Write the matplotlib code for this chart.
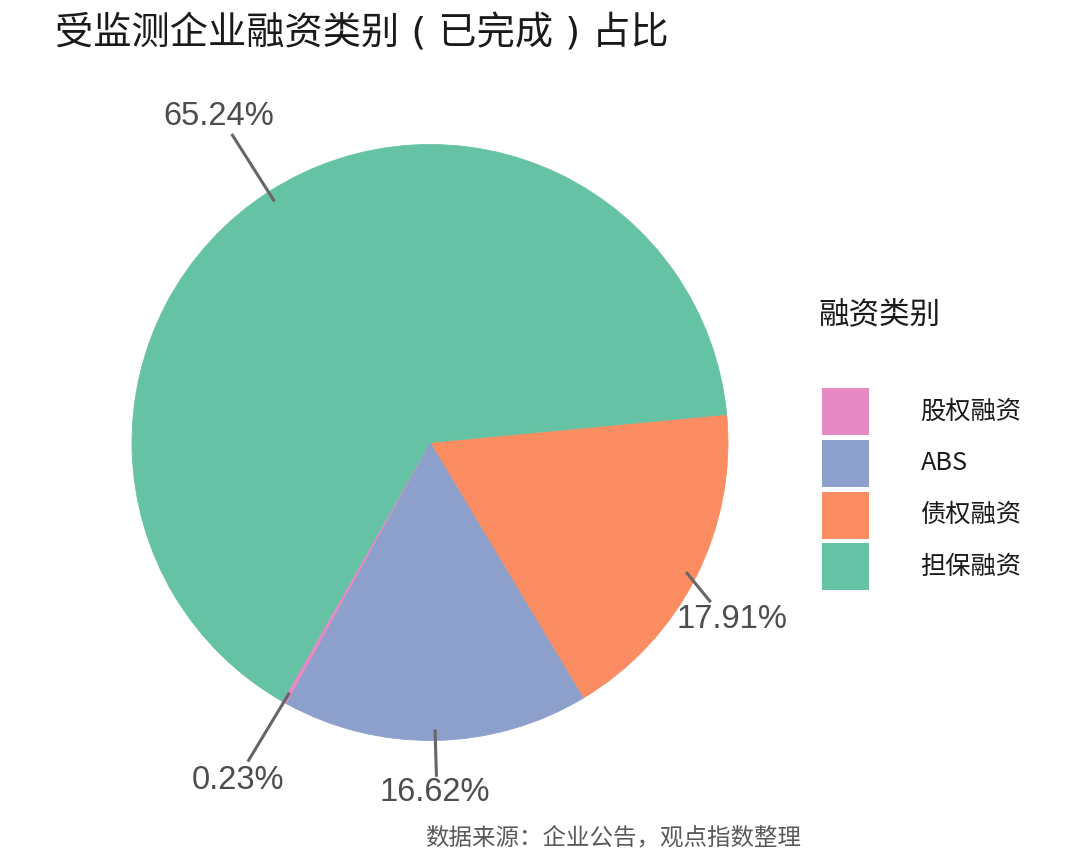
import matplotlib
matplotlib.use("Agg")
import matplotlib.pyplot as plt
from matplotlib.patches import Rectangle
import numpy as np

plt.rcParams['font.family'] = ['Noto Sans CJK SC', 'DejaVu Sans']

# ---- data ----
title = "受监测企业融资类别 ( 已完成 ) 占比"
legend_title = "融资类别"
categories = ["股权融资", "ABS", "债权融资", "担保融资"]
values = [0.23, 16.62, 17.91, 65.24]
pct_labels = ["0.23%", "16.62%", "17.91%", "65.24%"]
caption = "数据来源：企业公告，观点指数整理"

# ---- styles ----
colors = {"股权融资": "#E78AC3", "ABS": "#8DA0CB", "债权融资": "#FC8D62", "担保融资": "#66C2A5"}
pie_order = ["债权融资", "ABS", "股权融资", "担保融资"]   # clockwise from start angle
start_angle = 5.4
# per-category label placement (radius in pie radii, angle offset in degrees)
label_r = {"股权融资": 1.304, "ABS": 1.176, "债权融资": 1.174, "担保融资": 1.302}
line_end_r = {"股权融资": 1.233, "ABS": 1.122, "债权融资": 1.084, "担保融资": 1.231}
label_dang = {"股权融资": -0.3, "ABS": -0.3, "债权融资": -3.5, "担保融资": 0.1}
line_dang = {"股权融资": -0.4, "ABS": 0.1, "债权融资": -2.8, "担保融资": -0.1}

W, H = 1080, 864
fig = plt.figure(figsize=(W / 100, H / 100), dpi=100)
fig.patch.set_facecolor("white")

R_px = 298.0
cx, cy = 430.0, 442.5
half = 400.0
ax = fig.add_axes([(cx - half) / W, (H - cy - half) / H, 2 * half / W, 2 * half / H])
vals = [values[categories.index(c)] for c in pie_order]
wedges, _ = ax.pie(vals, colors=[colors[c] for c in pie_order], startangle=start_angle,
                   counterclock=False, radius=1.0,
                   wedgeprops=dict(linewidth=0.6, antialiased=True))
for w, c in zip(wedges, pie_order):
    w.set_edgecolor(colors[c])
a = half / R_px
ax.set_xlim(-a, a)
ax.set_ylim(-a, a)
ax.set_aspect("equal")
ax.axis("off")

for w, c in zip(wedges, pie_order):
    mid = np.deg2rad((w.theta1 + w.theta2) / 2.0)
    x0, y0 = 0.963 * np.cos(mid), 0.963 * np.sin(mid)
    le = mid + np.deg2rad(line_dang[c])
    x1, y1 = line_end_r[c] * np.cos(le), line_end_r[c] * np.sin(le)
    ax.plot([x0, x1], [y0, y1], color="#666666", lw=2.2, solid_capstyle="butt")
    la = mid + np.deg2rad(label_dang[c])
    xl, yl = label_r[c] * np.cos(la), label_r[c] * np.sin(la)
    ax.text(xl, yl, pct_labels[categories.index(c)], ha="center", va="center",
            fontsize=23.5, color="#4D4D4D", family=["Liberation Sans", "DejaVu Sans"])

# overlay axes in pixel coordinates
ov = fig.add_axes([0, 0, 1, 1])
ov.set_xlim(0, W)
ov.set_ylim(H, 0)
ov.axis("off")
ov.patch.set_alpha(0)

ov.text(55, 33, title, ha="left", va="center", fontsize=27.5, color="#1A1A1A",
        family=["DejaVu Sans", "Noto Sans CJK SC"])

ov.text(818, 315, legend_title, ha="left", va="center", fontsize=22, color="#1A1A1A")
for i, c in enumerate(categories):
    top = 388.3 + i * 51.7
    ov.add_patch(Rectangle((822, top), 47, 47, facecolor=colors[c], edgecolor="none"))
    ov.text(920.5, top + 23.5, c, ha="left", va="center", fontsize=18.2, color="#1A1A1A")

ov.text(801, 838, caption, ha="right", va="center", fontsize=16.9, color="#595959")

fig.savefig("out.png", dpi=100, facecolor="white")
